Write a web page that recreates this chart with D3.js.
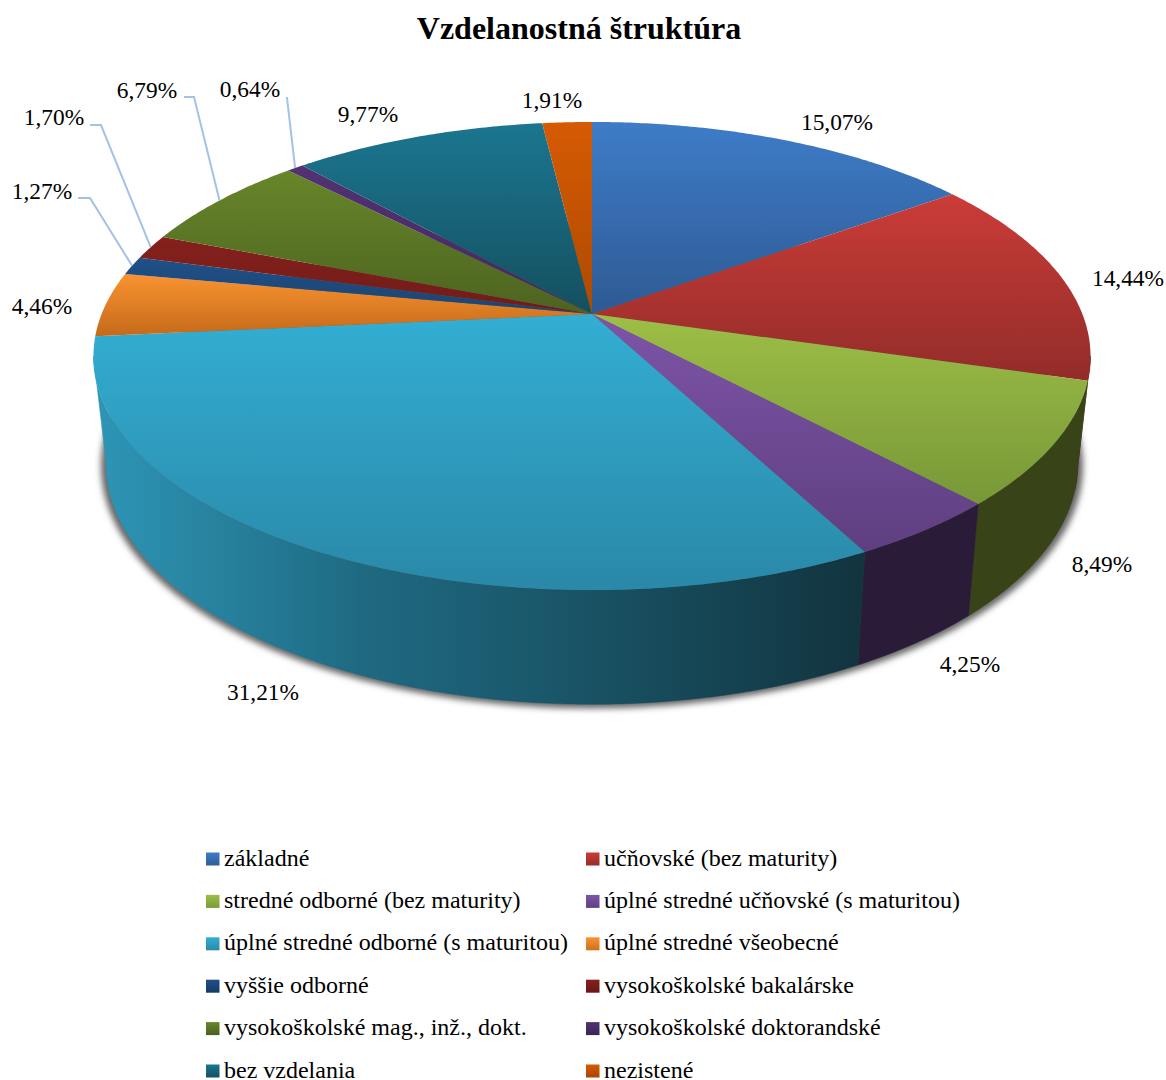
<!DOCTYPE html>
<html>
<head>
<meta charset="utf-8">
<script src="https://cdn.jsdelivr.net/npm/d3@7"></script>
<style>
  html, body { margin: 0; padding: 0; background: #fff; }
  text { font-family: "Liberation Serif", "Times New Roman", serif; fill: #000; }
</style>
</head>
<body>
<svg id="chart" width="1166" height="1080"></svg>
<script>
const categories = [
  "základné", "učňovské (bez maturity)",
  "stredné odborné (bez maturity)", "úplné stredné učňovské (s maturitou)",
  "úplné stredné odborné (s maturitou)", "úplné stredné všeobecné",
  "vyššie odborné", "vysokoškolské bakalárske",
  "vysokoškolské mag., inž., dokt.", "vysokoškolské doktorandské",
  "bez vzdelania", "nezistené"
];
const shares = [15.07, 14.44, 8.49, 4.25, 31.21, 4.46, 1.27, 1.70, 6.79, 0.64, 9.77, 1.91];

// top face gradient, light to dark
const topLight = ["#3e7cc8", "#cb3c38", "#9dbf46", "#7e54a8", "#33aed3", "#fa9331", "#1f5088", "#86201c", "#68862a", "#523272", "#1b7690", "#d65a04"];
const topDark = ["#2e5a93", "#922c29", "#789738", "#5e3f80", "#2a88a8", "#c46a1a", "#1c4470", "#6e1c18", "#4c6320", "#44285f", "#14505f", "#ad4a00"];
const legendDark = ["#2f5c96", "#962e2b", "#7a9a3a", "#5f4082", "#2a8aa8", "#d0701c", "#173a66", "#661715", "#4a601f", "#3a2354", "#125062", "#a84600"];

// label centres in page pixels, same order as the shares
const labelX = [837, 1128, 1102, 970, 263, 42, 42, 54, 147, 250, 368, 552];
const labelY = [122, 278, 564, 664, 692, 306, 191, 117, 90, 89, 114, 100];
// slices with a leader line: index, start of line, elbow
const leaders = [
  { i: 6, from: [78, 198], elbow: [90, 198] },
  { i: 7, from: [90, 125], elbow: [101, 125] },
  { i: 8, from: [184, 97], elbow: [194, 97] },
  { i: 9, from: [286, 98], elbow: [287, 98] }
];

const svg = d3.select("#chart");
const defs = svg.append("defs");

// perspective disc: apex of the pie sits above the middle of the ellipse
const persp = 0.1795;
const topFace = { cx: 592, cy: 314, rx: 490.4, ry: 226.5 };
const baseFace = { cx: 592, cy: 420.3, rx: 478, ry: 233 };

function project(face, a) {
  const u = Math.sin(a), v = -Math.cos(a), w = 1 - persp * v;
  return [face.cx + face.rx * u / w, face.cy + face.ry * v / w];
}
function arcPoints(face, a0, a1) {
  const n = Math.max(2, Math.ceil(Math.abs(a1 - a0) / 0.01));
  return d3.range(n + 1).map(i => project(face, a0 + (a1 - a0) * i / n));
}

const line = d3.line();
const slices = d3.pie().sort(null).value(d => d)(shares);

// soft shadow under the side wall
const blur = defs.append("filter").attr("id", "soft")
  .attr("x", "-10%").attr("y", "-10%").attr("width", "120%").attr("height", "120%");
blur.append("feGaussianBlur").attr("stdDeviation", 3);
svg.append("path")
  .attr("d", line(arcPoints({ cx: 592, cy: 422, rx: 483, ry: 235 }, 0, 2 * Math.PI)) + "Z")
  .attr("fill", "#666")
  .attr("filter", "url(#soft)");

// side wall, only the part facing the viewer
const wallFrom = 100.3 * Math.PI / 180, wallTo = 259.7 * Math.PI / 180;
const wallColor = d3.scaleLinear()
  .domain([105, 360, 620, 860])
  .range(["#2d94b4", "#1f6a82", "#184f60", "#12343f"]);
const wallGrad = defs.append("linearGradient").attr("id", "wall-teal")
  .attr("gradientUnits", "userSpaceOnUse")
  .attr("x1", 95).attr("x2", 865).attr("y1", 0).attr("y2", 0);
wallColor.domain().forEach(x => {
  wallGrad.append("stop").attr("offset", (x - 95) / 770).attr("stop-color", wallColor(x));
});
const wallFill = { 1: "#5e1c1a", 2: "#384418", 3: "#2a1c38", 4: "url(#wall-teal)" };

slices.forEach(s => {
  const a0 = Math.max(s.startAngle, wallFrom), a1 = Math.min(s.endAngle, wallTo);
  if (a1 <= a0) return;
  const pts = arcPoints(topFace, a0, a1).concat(arcPoints(baseFace, a1, a0));
  svg.append("path")
    .attr("d", line(pts) + "Z")
    .attr("fill", wallFill[s.index])
    .attr("stroke", wallFill[s.index])
    .attr("stroke-width", 0.5);
});

// top face
slices.forEach(s => {
  const id = "top-" + s.index;
  const g = defs.append("linearGradient").attr("id", id)
    .attr("x1", 0).attr("x2", 0).attr("y1", 0).attr("y2", 1);
  g.append("stop").attr("offset", 0).attr("stop-color", topLight[s.index]);
  g.append("stop").attr("offset", 1).attr("stop-color", topDark[s.index]);
  const pts = [[topFace.cx, topFace.cy]].concat(arcPoints(topFace, s.startAngle, s.endAngle));
  svg.append("path")
    .attr("d", line(pts) + "Z")
    .attr("fill", `url(#${id})`);
});

// title
svg.append("text")
  .attr("x", 579).attr("y", 39)
  .attr("text-anchor", "middle")
  .style("font-size", "32px").style("font-weight", "700")
  .text("Vzdelanostná štruktúra");

// leader lines
leaders.forEach(d => {
  const s = slices[d.i];
  const end = project(topFace, (s.startAngle + s.endAngle) / 2);
  svg.append("path")
    .attr("d", line([d.from, d.elbow, end]))
    .attr("fill", "none")
    .attr("stroke", "#a3c2e8")
    .attr("stroke-width", 2);
});

// value labels
svg.append("g").selectAll("text")
  .data(shares)
  .join("text")
  .attr("x", (d, i) => labelX[i])
  .attr("y", (d, i) => labelY[i])
  .attr("dy", "0.33em")
  .attr("text-anchor", "middle")
  .style("font-size", "23.4px")
  .text(d => d.toFixed(2).replace(".", ",") + "%");

// legend, two columns
const legendCol = d3.scaleOrdinal().domain([0, 1]).range([206, 586]);
const legendRow = d3.scalePoint().domain(d3.range(6)).range([859, 1071]);
const legend = svg.append("g").selectAll("g")
  .data(categories)
  .join("g")
  .attr("transform", (d, i) => `translate(${legendCol(i % 2)},${legendRow(Math.floor(i / 2))})`);
categories.forEach((c, i) => {
  const g = defs.append("linearGradient").attr("id", "key-" + i)
    .attr("x1", 0).attr("x2", 0).attr("y1", 0).attr("y2", 1);
  g.append("stop").attr("offset", 0).attr("stop-color", topLight[i]);
  g.append("stop").attr("offset", 1).attr("stop-color", legendDark[i]);
});
legend.append("rect")
  .attr("x", 0).attr("y", -6.5)
  .attr("width", 13.5).attr("height", 13)
  .attr("fill", (d, i) => `url(#key-${i})`);
legend.append("text")
  .attr("x", 18).attr("y", 6.5)
  .style("font-size", "24px")
  .text(d => d);
</script>
</body>
</html>
